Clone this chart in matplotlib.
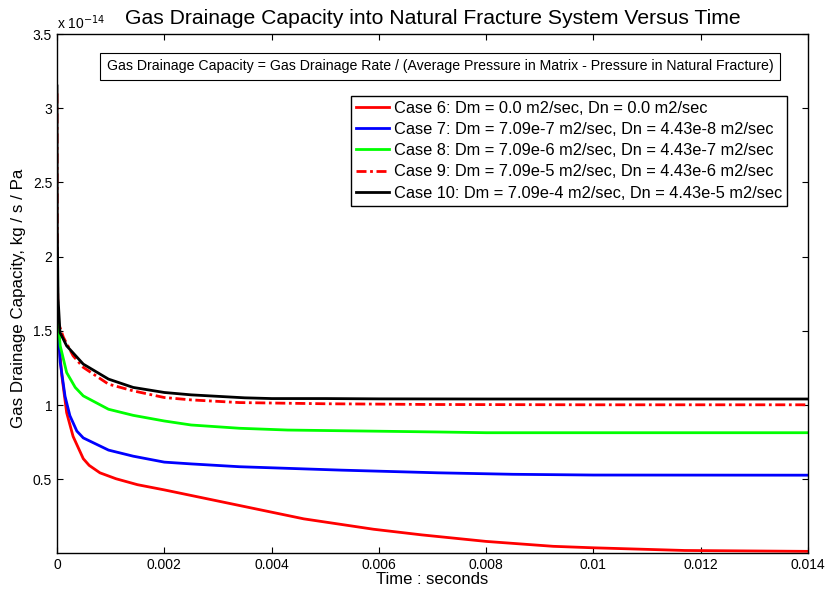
import matplotlib
matplotlib.use("Agg")
import matplotlib.pyplot as plt
import numpy as np

plt.rcParams['font.family'] = ['Liberation Sans', 'DejaVu Sans']

# Values in units of 1e-14 kg/s/Pa
t6 = [0, 0.00003, 0.00009, 0.00018, 0.0003, 0.00049, 0.0006, 0.0008, 0.0011, 0.0015, 0.002, 0.0028, 0.0034,
      0.0046, 0.0059, 0.0068, 0.008, 0.00925, 0.01, 0.0117, 0.014]
case6 = [1.65, 1.45, 1.20, 0.95, 0.79, 0.64, 0.595, 0.545, 0.505, 0.465, 0.43, 0.37, 0.325,
         0.235, 0.165, 0.127, 0.083, 0.05, 0.04, 0.022, 0.016]

t7 = [0, 0.00006, 0.00015, 0.00024, 0.00037, 0.00049, 0.00096, 0.00142, 0.002, 0.0025, 0.0034, 0.0053,
      0.0071, 0.0085, 0.01, 0.014]
case7 = [1.65, 1.29, 1.06, 0.93, 0.826, 0.78, 0.698, 0.657, 0.617, 0.605, 0.586, 0.563,
         0.545, 0.535, 0.53, 0.529]

t8 = [0, 0.00006, 0.00018, 0.00034, 0.00049, 0.00096, 0.00142, 0.002, 0.0025, 0.0034, 0.0043,
      0.0071, 0.008, 0.01, 0.014]
case8 = [1.65, 1.40, 1.22, 1.12, 1.063, 0.973, 0.932, 0.894, 0.867, 0.845, 0.833,
         0.82, 0.815, 0.815, 0.815]

t9 = [0, 0.000005, 0.00002, 0.00012, 0.0003, 0.00049, 0.00096, 0.00142, 0.002, 0.0025, 0.0034, 0.005,
      0.007, 0.01, 0.014]
case9 = [3.1, 2.0, 1.56, 1.457, 1.333, 1.255, 1.142, 1.097, 1.052, 1.036, 1.018, 1.01,
         1.005, 1.003, 1.003]

t10 = [0, 0.000005, 0.00002, 0.000056, 0.00018, 0.00049, 0.00096, 0.00142, 0.002, 0.0025, 0.003,
       0.0035, 0.004, 0.005, 0.006, 0.008, 0.01, 0.012, 0.014]
case10 = [3.15, 2.2, 1.72, 1.49, 1.40, 1.277, 1.176, 1.12, 1.086, 1.07, 1.06,
          1.05, 1.045, 1.045, 1.043, 1.042, 1.042, 1.042, 1.042]

labels = [
    "Case 6: Dm = 0.0 m2/sec, Dn = 0.0 m2/sec",
    "Case 7: Dm = 7.09e-7 m2/sec, Dn = 4.43e-8 m2/sec",
    "Case 8: Dm = 7.09e-6 m2/sec, Dn = 4.43e-7 m2/sec",
    "Case 9: Dm = 7.09e-5 m2/sec, Dn = 4.43e-6 m2/sec",
    "Case 10: Dm = 7.09e-4 m2/sec, Dn = 4.43e-5 m2/sec",
]
xticks = [0, 0.002, 0.004, 0.006, 0.008, 0.01, 0.012, 0.014]
xticklabels = ["0", "0.002", "0.004", "0.006", "0.008", "0.01", "0.012", "0.014"]
yticks = [0.5, 1, 1.5, 2, 2.5, 3, 3.5]
yticklabels = ["0.5", "1", "1.5", "2", "2.5", "3", "3.5"]

fig = plt.figure(figsize=(8.27, 5.92), dpi=100)
ax = fig.add_axes([57/827, 1-553/592, (808-57)/827, (553-34)/592])

lw = 2.0
ax.plot(t6, case6, color='#ff0000', lw=lw, label=labels[0])
ax.plot(t7, case7, color='#0000ff', lw=lw, label=labels[1])
ax.plot(t8, case8, color='#00ff00', lw=lw, label=labels[2])
ax.plot(t9, case9, color='#ff0000', lw=lw, linestyle=(0, (3.6, 1.3, 1.0, 1.3)), label=labels[3])
ax.plot(t10, case10, color='black', lw=lw, label=labels[4])

ax.set_xlim(0, 0.014)
ax.set_ylim(0.005, 3.5)
ax.set_xticks(xticks)
ax.set_xticklabels(xticklabels)
ax.set_yticks(yticks)
ax.set_yticklabels(yticklabels)
ax.tick_params(direction='in', top=True, right=True, labelsize=10, length=4, width=0.8)
for s in ax.spines.values():
    s.set_linewidth(1.0)

ax.set_title("Gas Drainage Capacity into Natural Fracture System Versus Time", fontsize=15.2, pad=7)
ax.set_xlabel("Time : seconds", fontsize=12, labelpad=0)
ax.set_ylabel("Gas Drainage Capacity, kg / s / Pa", fontsize=12.2)
ax.yaxis.set_label_coords((18 - 57) / 751, (553 - 298.5) / 519)
ax.yaxis.label.set_va('center')

ax.text(0.0, 1.003, r"x 10$^{-14}$", transform=ax.transAxes, fontsize=10, ha='left', va='bottom')

ax.text(0.066, 0.938,
        "Gas Drainage Capacity = Gas Drainage Rate / (Average Pressure in Matrix - Pressure in Natural Fracture)",
        transform=ax.transAxes, fontsize=10.2, ha='left', va='center',
        bbox=dict(boxstyle='square,pad=0.45', fc='white', ec='black', lw=0.8))

leg = ax.legend(loc='upper right', bbox_to_anchor=(0.972, 0.881), fontsize=11.8, frameon=True,
                fancybox=False, edgecolor='black', framealpha=1, handlelength=2.0,
                handletextpad=0.3, labelspacing=0.38, borderpad=0.3, borderaxespad=0)
leg.get_frame().set_linewidth(1.0)

fig.savefig("out.png", dpi=100)
